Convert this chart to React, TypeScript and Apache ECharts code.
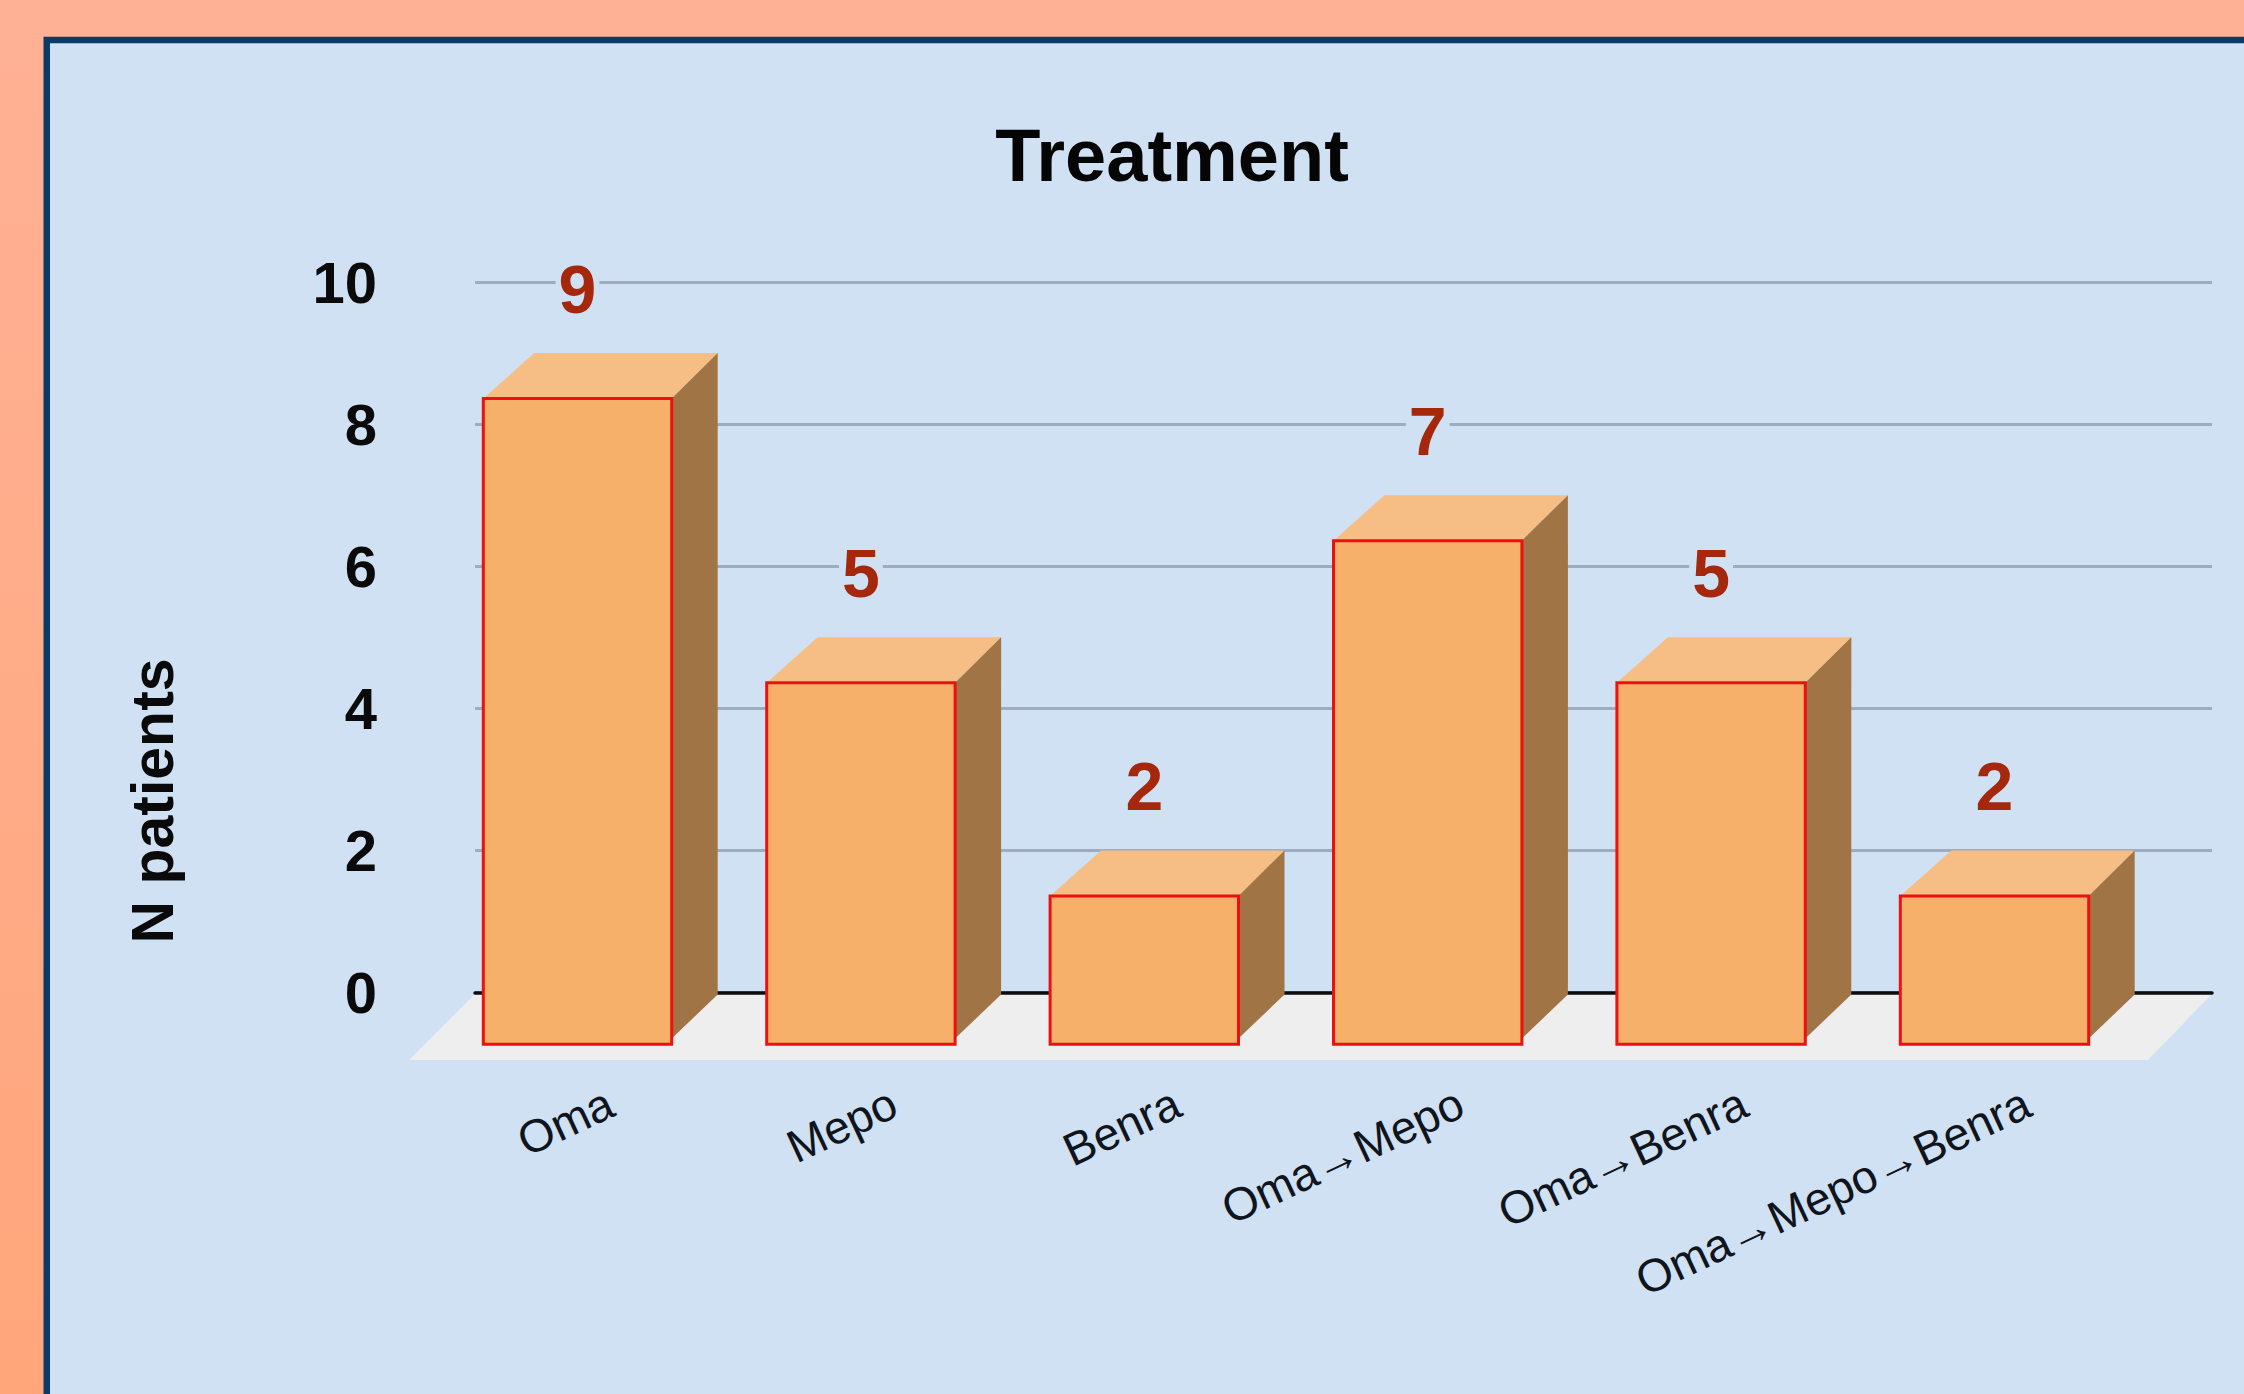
import React, { useEffect, useRef } from "react";
import * as echarts from "echarts";

const categories = ["Oma", "Mepo", "Benra", "Oma→Mepo", "Oma→Benra", "Oma→Mepo→Benra"];
const patients = [9, 5, 2, 7, 5, 2];
const yTicks = [0, 2, 4, 6, 8, 10];

const FONT = '"Liberation Sans", Arial, sans-serif';
const PANEL = "#cfe1f2";

// Pseudo-3D column: the axis value lands on the rear edge of the top face.
function renderColumn(_params: any, api: any) {
  const idx = api.value(0);
  const val = api.value(1);
  const [anchor, yBack] = api.coord([idx, val]);
  const [, yBase] = api.coord([idx, 0]);
  const cx = anchor - 33;
  const left = cx - 94.2;
  const right = cx + 94.2;
  const yFront = yBack + 45.5;
  const yFrontBase = yBase + 51.7;
  const backLeft = left + 51;
  const backRight = right + 46;
  return {
    type: "group",
    children: [
      {
        type: "polygon",
        shape: { points: [[left, yFront], [backLeft, yBack], [backRight, yBack], [right, yFront]] },
        style: { fill: "#f6bd85" },
      },
      {
        type: "polygon",
        shape: { points: [[right, yFront], [backRight, yBack], [backRight, yBase + 2], [right, yBase + 46]] },
        style: { fill: "#a17445" },
      },
      {
        type: "rect",
        shape: { x: left, y: yFront, width: right - left, height: yFrontBase - yFront },
        style: { fill: "#f6b06a", stroke: "#ee1010", lineWidth: 3 },
      },
      {
        type: "text",
        style: {
          text: String(val),
          x: cx,
          y: yBack - 64,
          align: "center",
          verticalAlign: "middle",
          fontFamily: FONT,
          fontWeight: "bold",
          fontSize: 68,
          fill: "#a5280c",
          backgroundColor: PANEL,
          padding: [0, 3],
        },
      },
    ],
  };
}

export default function App() {
  const ref = useRef<HTMLDivElement>(null);

  useEffect(() => {
    const chart = echarts.init(ref.current!, null, { renderer: "svg" });
    const gridTop = 282;
    const gridHeight = 710.5;
    chart.setOption({
      animation: false,
      graphic: [
        {
          type: "rect",
          z: -20,
          shape: { x: 0, y: 0, width: 2244, height: 1394 },
          style: {
            fill: new echarts.graphic.LinearGradient(0, 0, 0, 1, [
              { offset: 0, color: "#ffb195" },
              { offset: 1, color: "#ffa67b" },
            ]),
          },
        },
        {
          type: "rect",
          z: -19,
          shape: { x: 46.75, y: 40, width: 2400, height: 1600 },
          style: { fill: PANEL, stroke: "#0a3a68", lineWidth: 6.5 },
        },
        {
          type: "polygon",
          z: -18,
          shape: { points: [[475, 994], [2212, 994], [2148, 1060], [409, 1060]] },
          style: { fill: "#eeeeee" },
        },
        {
          type: "text",
          z: 5,
          x: 153,
          y: 801,
          rotation: Math.PI / 2,
          style: {
            text: "N patients",
            align: "center",
            verticalAlign: "middle",
            fontFamily: FONT,
            fontWeight: "bold",
            fontSize: 59,
            fill: "#0a0a0a",
          },
        },
      ],
      title: {
        text: "Treatment",
        left: 1167,
        top: 113,
        textAlign: "center",
        textStyle: { fontFamily: FONT, fontWeight: "bold", fontSize: 74, color: "#050505" },
      },
      grid: [
        { left: 475, top: gridTop, width: 1737, height: gridHeight },
        { left: 468.8, top: gridTop, width: 1700.4, height: gridHeight },
      ],
      xAxis: [
        {
          gridIndex: 0,
          type: "category",
          data: categories,
          axisTick: { show: false },
          axisLabel: { show: false },
          axisLine: { lineStyle: { color: "#0c0c10", width: 3.5 } },
        },
        {
          gridIndex: 1,
          type: "category",
          data: categories,
          axisTick: { show: false },
          axisLine: { show: false },
          axisLabel: {
            interval: 0,
            rotate: 25,
            margin: 108,
            fontFamily: FONT,
            fontSize: 46,
            color: "#10141c",
          },
        },
      ],
      yAxis: [
        {
          gridIndex: 0,
          type: "value",
          min: 0,
          max: 10,
          interval: 2,
          axisLine: { show: false },
          axisTick: { show: false },
          axisLabel: {
            margin: 98,
            fontFamily: FONT,
            fontWeight: "bold",
            fontSize: 58,
            color: "#0a0a0a",
            formatter: (v: number) => (yTicks.includes(v) ? String(v) : ""),
          },
          splitLine: { lineStyle: { color: "#9dadbf", width: 3 } },
        },
        {
          gridIndex: 1,
          type: "value",
          min: 0,
          max: 10,
          interval: 2,
          show: false,
        },
      ],
      series: [
        {
          type: "custom",
          xAxisIndex: 1,
          yAxisIndex: 1,
          clip: false,
          renderItem: renderColumn,
          encode: { x: 0, y: 1 },
          data: categories.map((_, i) => [i, patients[i]]),
        },
      ],
    });
    return () => chart.dispose();
  }, []);

  return <div ref={ref} style={{ position: "absolute", left: 0, top: 0, width: 2244, height: 1394 }} />;
}
